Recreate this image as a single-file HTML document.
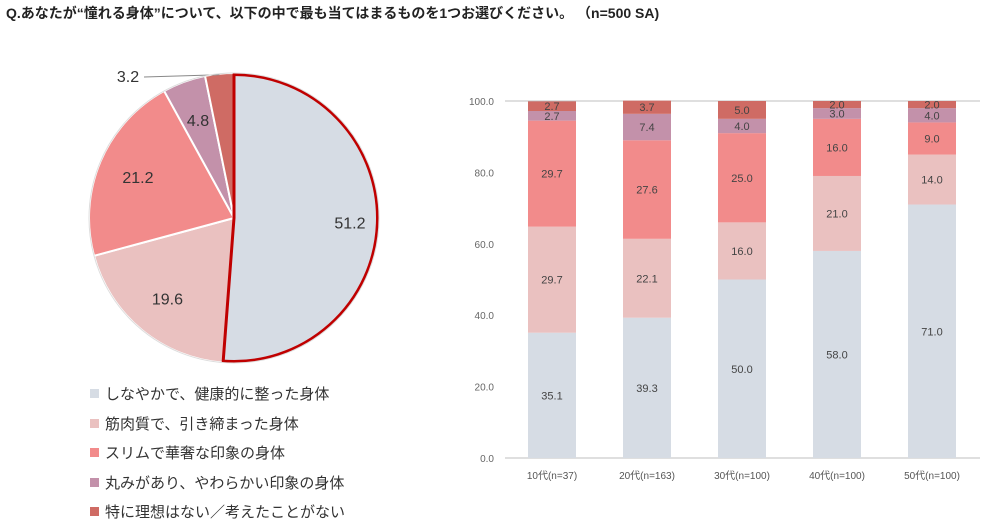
<!DOCTYPE html>
<html><head><meta charset="utf-8"><style>
body{margin:0;background:#fff;font-family:"Liberation Sans","Noto Sans CJK JP",sans-serif;}
#wrap{position:relative;width:984px;height:526px;overflow:hidden}
.title{position:absolute;left:6px;top:3px;font-size:14px;font-weight:bold;color:#222;white-space:nowrap}
.leg{position:absolute;left:90px;font-size:15px;color:#333;white-space:nowrap}
.leg i{display:inline-block;width:9px;height:9px;margin-right:6px;vertical-align:1px}
</style></head><body>
<div id="wrap">
<div class="title">Q.あなたが“憧れる身体”について、以下の中で最も当てはまるものを1つお選びください。 （n=500 SA)</div>
<svg id="pie" width="984" height="526" style="position:absolute;left:0;top:0"></svg>
<div id="legend"></div>
</div>
<script>
const labels=["しなやかで、健康的に整った身体","筋肉質で、引き締まった身体","スリムで華奢な印象の身体","丸みがあり、やわらかい印象の身体","特に理想はない／考えたことがない"];
const colors=["#d6dce4","#eac1c0","#f28b8b","#c391aa","#cf6b64"];
const pieValues=[51.2,19.6,21.2,4.8,3.2];
const groups=["10代(n=37)","20代(n=163)","30代(n=100)","40代(n=100)","50代(n=100)"];
const s1=[35.1,39.3,50.0,58.0,71.0];
const s2=[29.7,22.1,16.0,21.0,14.0];
const s3=[29.7,27.6,25.0,16.0,9.0];
const s4=[2.7,7.4,4.0,3.0,4.0];
const s5=[2.7,3.7,5.0,2.0,2.0];
const yTicks=[0,20,40,60,80,100];
const NS="http://www.w3.org/2000/svg";
const svg=document.getElementById('pie');
function mk(t,a){const e=document.createElementNS(NS,t);for(const k in a)e.setAttribute(k,a[k]);svg.appendChild(e);return e;}
const cx=234,cy=218,r=145;
const tot=pieValues.reduce((a,b)=>a+b,0);
let ang=0;
pieValues.forEach((v,i)=>{
 const a0=ang/tot*2*Math.PI, a1=(ang+v)/tot*2*Math.PI; ang+=v;
 const x0=cx+r*Math.sin(a0),y0=cy-r*Math.cos(a0),x1=cx+r*Math.sin(a1),y1=cy-r*Math.cos(a1);
 const p=mk('path',{d:`M${cx},${cy}L${x0},${y0}A${r},${r} 0 ${(a1-a0)>Math.PI?1:0} 1 ${x1},${y1}Z`,fill:colors[i],stroke:'#fff','stroke-width':2});
 
 
 const m=(a0+a1)/2;
 let lr=r*(i==0?0.8:0.72);
 let tx=cx+lr*Math.sin(m),ty=cy-lr*Math.cos(m)+6;
 if(i==4){tx=128;ty=82;mk('line',{x1:144,y1:77,x2:cx+r*Math.sin(m),y2:cy-r*Math.cos(m)+1,stroke:'#888','stroke-width':1});}
 const t=mk('text',{x:tx,y:ty,'text-anchor':'middle','font-size':16,fill:'#333'});t.textContent=v.toFixed(1);
 
 
});
{const a1=pieValues[0]/tot*2*Math.PI;const rr=r-1.5;
 const b=mk('path',{d:`M${cx},${cy}L${cx},${cy-rr}A${rr},${rr} 0 ${a1>Math.PI?1:0} 1 ${cx+rr*Math.sin(a1)},${cy-rr*Math.cos(a1)}Z`,fill:'none',stroke:'#c00000','stroke-width':3,'stroke-linejoin':'round'});
 
 }
mk('circle',{cx:cx,cy:cy,r:r,fill:'none',stroke:'#ddd','stroke-width':1});
const lg=document.getElementById('legend');
labels.forEach((l,i)=>{const d=document.createElement('div');d.className='leg';d.style.top=(383+i*29.5)+'px';
 d.innerHTML=`<i style="background:${colors[i]}"></i>${l}`;
 
 lg.appendChild(d);});
const y0=458,y100=101,xL=505,xR=980,step=95,bx0=552,bw=48;
const Y=v=>y0-(y0-y100)*v/100;
const X=i=>bx0+i*step;
yTicks.forEach(t=>{
 const l=mk('line',{x1:xL,x2:xR,y1:Y(t),y2:Y(t),stroke:t==0||t==100?'#bfbfbf':'none','stroke-width':1});
 
 
 const tx=mk('text',{x:494,y:Y(t)+4,'text-anchor':'end','font-size':10,fill:'#666'});tx.textContent=t.toFixed(1);
 
 
});
const series=[s1,s2,s3,s4,s5];
groups.forEach((g,i)=>{
 let base=0;
 series.forEach((s,k)=>{
  const v=s[i];
  const rect=mk('rect',{x:X(i)-bw/2,y:Y(base+v),width:bw,height:Y(base)-Y(base+v),fill:colors[k]});
  
  
  const t=mk('text',{x:X(i),y:(Y(base)+Y(base+v))/2+4,'text-anchor':'middle','font-size':11,fill:'#444'});t.textContent=v.toFixed(1);
  
  
  base+=v;
 });
 const gl=mk('text',{x:X(i),y:479,'text-anchor':'middle','font-size':10,fill:'#555'});gl.textContent=g;
 
 
});
</script>
</body></html>
